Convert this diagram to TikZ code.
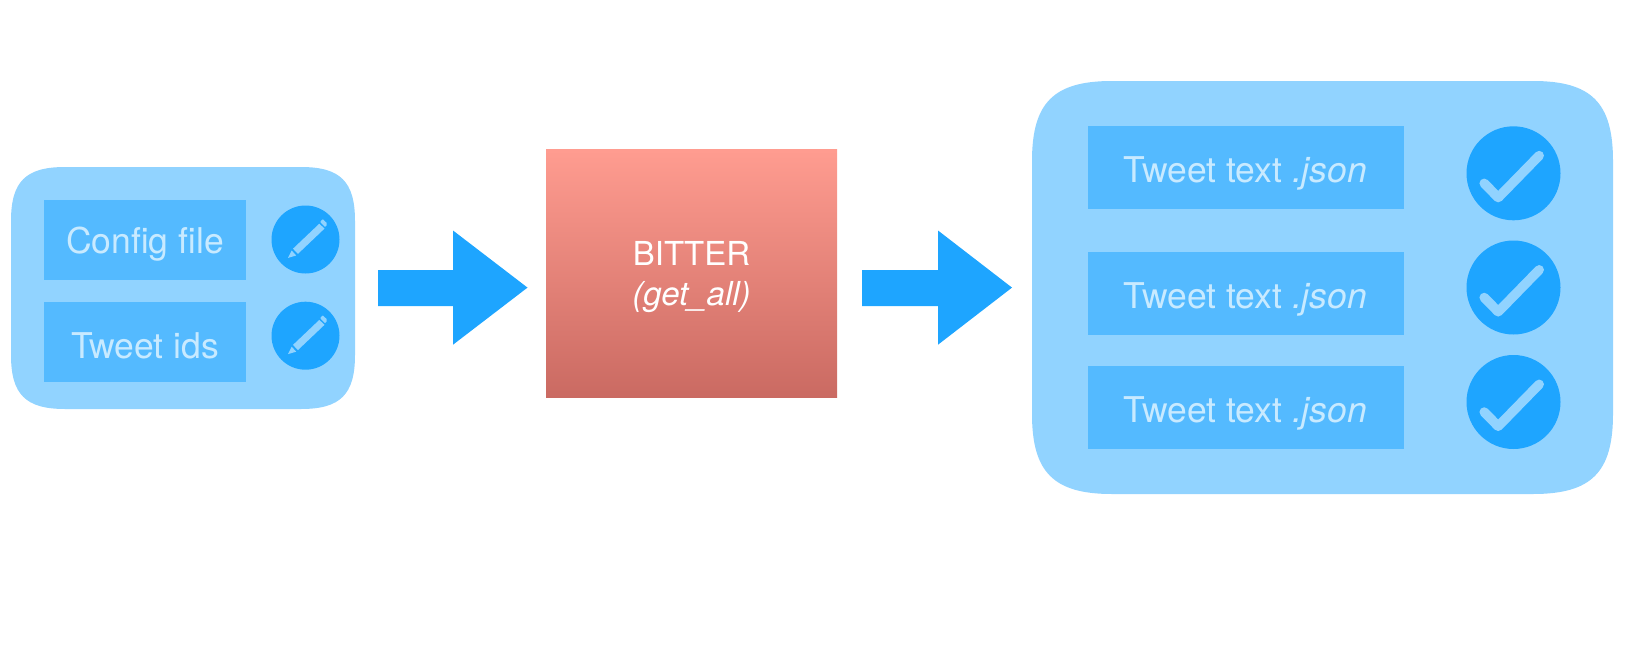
\documentclass[tikz,border=0pt]{standalone}
\usepackage{fontspec}
\setmainfont{TeX Gyre Heros}
\definecolor{panelc}{HTML}{91D3FF}
\definecolor{boxc}{HTML}{54BAFF}
\definecolor{blobc}{HTML}{1EA5FF}
\definecolor{txtc}{HTML}{C8EAFF}
\definecolor{gtop}{HTML}{FF9C90}
\definecolor{gbot}{HTML}{CA6A62}
\newcommand{\squirc}[5]{%
  \fill[panelc] (#1+#5,#2) -- (#3-#5,#2)
    .. controls (#3-0.27*#5,#2) and (#3,#2+0.27*#5) .. (#3,#2+#5)
    -- (#3,#4-#5)
    .. controls (#3,#4-0.27*#5) and (#3-0.27*#5,#4) .. (#3-#5,#4)
    -- (#1+#5,#4)
    .. controls (#1+0.27*#5,#4) and (#1,#4-0.27*#5) .. (#1,#4-#5)
    -- (#1,#2+#5)
    .. controls (#1,#2+0.27*#5) and (#1+0.27*#5,#2) .. (#1+#5,#2) -- cycle;}
\newcommand{\blockarrow}[3]{%
  \fill[blobc] (#1,270) -- (#2,270) -- (#2,230.5) -- (#3,287.6) -- (#2,344.7) -- (#2,306) -- (#1,306) -- cycle;}
\tikzset{
  x=1pt,y=-1pt,
  inputbox/.style={fill=boxc,inner sep=0pt,outer sep=0pt,minimum width=202pt,minimum height=80pt},
  outputbox/.style={fill=boxc,inner sep=0pt,outer sep=0pt,minimum width=316pt,minimum height=83pt},
  inputdot/.style={circle,fill=blobc,inner sep=0pt,outer sep=0pt,minimum size=68pt},
  outputdot/.style={circle,fill=blobc,inner sep=0pt,outer sep=0pt,minimum size=94pt},
  lighttxt/.style={anchor=base,text=txtc,font=\fontsize{35.5}{35.5}\selectfont,inner sep=0pt},
  whitetxt/.style={anchor=base,text=white,font=\fontsize{33}{33}\selectfont,inner sep=0pt},
  tick/.style={draw=panelc,line width=9.5pt,line cap=round,line join=round},
}
\newcommand{\pencil}[2]{%
  \begin{scope}[shift={(#1,#2)}]
    \fill[panelc] (-13.8,11) -- (-9.3,16) -- (-17.5,18.4) -- cycle;
    \fill[panelc] (-12.5,9.2) -- (-7.6,14.4) -- (19,-10.9) -- (13.8,-15.8) -- cycle;
    \fill[panelc] (15,-18.2) -- (17.3,-20.2) -- (21.2,-16.6) -- (21,-14) -- (19.4,-12.6) -- (15.2,-16.8) -- cycle;
  \end{scope}}
\newcommand{\tickmark}[2]{%
  \draw[tick,shift={(#1,#2)}] (-29.3,10) -- (-15.3,24.3) -- (25.7,-17.7);}
\begin{document}
\begin{tikzpicture}
\useasboundingbox (0,0) rectangle (1628,656);
\squirc{11}{167}{355}{409}{54}
\squirc{1032}{81}{1613}{494}{80}
\node[inputbox] (cfg) at (145,240) {};
\node[inputbox] (ids) at (145,342) {};
\node[lighttxt] (cfgt) at (145,253.5) {Config file};
\node[lighttxt] (idst) at (145,358) {Tweet ids};
\node[inputdot] (d1) at (305.5,239.5) {};
\node[inputdot] (d2) at (305.5,335.7) {};
\pencil{305.5}{239.5}
\pencil{305.5}{335.7}
\blockarrow{378}{453}{527.5}
\node[minimum width=291pt,minimum height=248pt,inner sep=0pt,outer sep=0pt,top color=gtop,bottom color=gbot] (bitter) at (691.5,273.7) {};
\node[whitetxt] (bt) at (691.5,265) {BITTER};
\node[whitetxt] (ga) at (691.5,305.2) {\itshape (get\_all)};
\blockarrow{862}{938}{1012}
\foreach \n/\yc/\yb in {1/167.5/182.7,2/293.5/308,3/407/422}{
  \node[outputbox] (o\n) at (1246,\yc) {};
  \node[lighttxt] (ot\n) at (1245.5,\yb) {Tweet text \textit{.json}};
}
\foreach \n/\yc in {1/173.3,2/287.5,3/402}{
  \node[outputdot] (c\n) at (1513.5,\yc) {};
  \tickmark{1513.5}{\yc}
}
\end{tikzpicture}
\end{document}
